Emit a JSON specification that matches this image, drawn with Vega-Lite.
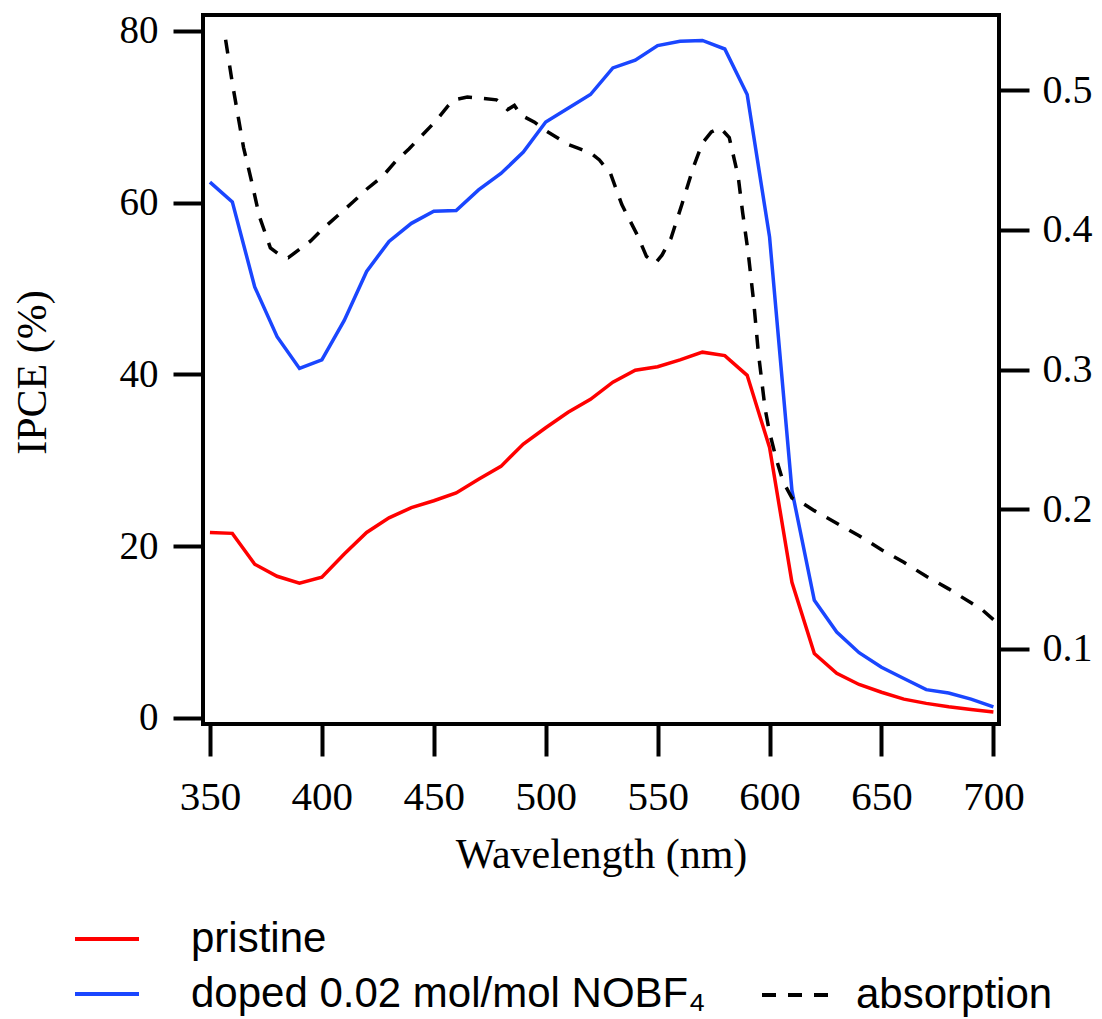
{
  "$schema": "https://vega.github.io/schema/vega-lite/v6.json",
  "autosize": {"type": "none"},
  "padding": {"left": 203, "top": 15, "right": 103, "bottom": 295},
  "width": 796,
  "height": 709,
  "background": "white",
  "config": {
    "view": {"stroke": "black", "strokeWidth": 4},
    "axis": {
      "grid": false,
      "domain": false,
      "tickColor": "black",
      "tickWidth": 4,
      "labelColor": "black",
      "titleColor": "black",
      "labelFont": "Liberation Serif",
      "titleFont": "Liberation Serif",
      "titleFontWeight": "normal"
    },
    "legend": {
      "labelFont": "Liberation Sans",
      "labelColor": "black",
      "labelLimit": 0,
      "padding": 0
    }
  },
  "datasets": {
    "ipce": [
      {"wl": 350, "series": "pristine", "ipce": 21.6},
      {"wl": 360, "series": "pristine", "ipce": 21.5},
      {"wl": 370, "series": "pristine", "ipce": 17.9},
      {"wl": 380, "series": "pristine", "ipce": 16.5},
      {"wl": 390, "series": "pristine", "ipce": 15.7},
      {"wl": 400, "series": "pristine", "ipce": 16.4},
      {"wl": 410, "series": "pristine", "ipce": 19.1},
      {"wl": 420, "series": "pristine", "ipce": 21.6},
      {"wl": 430, "series": "pristine", "ipce": 23.3},
      {"wl": 440, "series": "pristine", "ipce": 24.5},
      {"wl": 450, "series": "pristine", "ipce": 25.3},
      {"wl": 460, "series": "pristine", "ipce": 26.2},
      {"wl": 470, "series": "pristine", "ipce": 27.8},
      {"wl": 480, "series": "pristine", "ipce": 29.3},
      {"wl": 490, "series": "pristine", "ipce": 31.9},
      {"wl": 500, "series": "pristine", "ipce": 33.8},
      {"wl": 510, "series": "pristine", "ipce": 35.6},
      {"wl": 520, "series": "pristine", "ipce": 37.1},
      {"wl": 530, "series": "pristine", "ipce": 39.1},
      {"wl": 540, "series": "pristine", "ipce": 40.5},
      {"wl": 550, "series": "pristine", "ipce": 40.9},
      {"wl": 560, "series": "pristine", "ipce": 41.7},
      {"wl": 570, "series": "pristine", "ipce": 42.6},
      {"wl": 580, "series": "pristine", "ipce": 42.2},
      {"wl": 590, "series": "pristine", "ipce": 39.9},
      {"wl": 600, "series": "pristine", "ipce": 31.5},
      {"wl": 610, "series": "pristine", "ipce": 15.8},
      {"wl": 620, "series": "pristine", "ipce": 7.5},
      {"wl": 630, "series": "pristine", "ipce": 5.2},
      {"wl": 640, "series": "pristine", "ipce": 3.9},
      {"wl": 650, "series": "pristine", "ipce": 3.0},
      {"wl": 660, "series": "pristine", "ipce": 2.2},
      {"wl": 670, "series": "pristine", "ipce": 1.7},
      {"wl": 680, "series": "pristine", "ipce": 1.3},
      {"wl": 690, "series": "pristine", "ipce": 1.0},
      {"wl": 700, "series": "pristine", "ipce": 0.7},
      {"wl": 350, "series": "doped 0.02 mol/mol NOBF\u2084", "ipce": 62.4},
      {"wl": 360, "series": "doped 0.02 mol/mol NOBF\u2084", "ipce": 60.1},
      {"wl": 370, "series": "doped 0.02 mol/mol NOBF\u2084", "ipce": 50.2},
      {"wl": 380, "series": "doped 0.02 mol/mol NOBF\u2084", "ipce": 44.4},
      {"wl": 390, "series": "doped 0.02 mol/mol NOBF\u2084", "ipce": 40.7},
      {"wl": 400, "series": "doped 0.02 mol/mol NOBF\u2084", "ipce": 41.7},
      {"wl": 410, "series": "doped 0.02 mol/mol NOBF\u2084", "ipce": 46.3},
      {"wl": 420, "series": "doped 0.02 mol/mol NOBF\u2084", "ipce": 52.0},
      {"wl": 430, "series": "doped 0.02 mol/mol NOBF\u2084", "ipce": 55.5},
      {"wl": 440, "series": "doped 0.02 mol/mol NOBF\u2084", "ipce": 57.6},
      {"wl": 450, "series": "doped 0.02 mol/mol NOBF\u2084", "ipce": 59.0},
      {"wl": 460, "series": "doped 0.02 mol/mol NOBF\u2084", "ipce": 59.1},
      {"wl": 470, "series": "doped 0.02 mol/mol NOBF\u2084", "ipce": 61.5},
      {"wl": 480, "series": "doped 0.02 mol/mol NOBF\u2084", "ipce": 63.4},
      {"wl": 490, "series": "doped 0.02 mol/mol NOBF\u2084", "ipce": 65.9},
      {"wl": 500, "series": "doped 0.02 mol/mol NOBF\u2084", "ipce": 69.4},
      {"wl": 510, "series": "doped 0.02 mol/mol NOBF\u2084", "ipce": 71.0},
      {"wl": 520, "series": "doped 0.02 mol/mol NOBF\u2084", "ipce": 72.6},
      {"wl": 530, "series": "doped 0.02 mol/mol NOBF\u2084", "ipce": 75.7},
      {"wl": 540, "series": "doped 0.02 mol/mol NOBF\u2084", "ipce": 76.6},
      {"wl": 550, "series": "doped 0.02 mol/mol NOBF\u2084", "ipce": 78.3},
      {"wl": 560, "series": "doped 0.02 mol/mol NOBF\u2084", "ipce": 78.8},
      {"wl": 570, "series": "doped 0.02 mol/mol NOBF\u2084", "ipce": 78.9},
      {"wl": 580, "series": "doped 0.02 mol/mol NOBF\u2084", "ipce": 77.9},
      {"wl": 590, "series": "doped 0.02 mol/mol NOBF\u2084", "ipce": 72.6},
      {"wl": 600, "series": "doped 0.02 mol/mol NOBF\u2084", "ipce": 56.0},
      {"wl": 610, "series": "doped 0.02 mol/mol NOBF\u2084", "ipce": 26.5},
      {"wl": 620, "series": "doped 0.02 mol/mol NOBF\u2084", "ipce": 13.7},
      {"wl": 630, "series": "doped 0.02 mol/mol NOBF\u2084", "ipce": 10.0},
      {"wl": 640, "series": "doped 0.02 mol/mol NOBF\u2084", "ipce": 7.6},
      {"wl": 650, "series": "doped 0.02 mol/mol NOBF\u2084", "ipce": 5.9},
      {"wl": 660, "series": "doped 0.02 mol/mol NOBF\u2084", "ipce": 4.6},
      {"wl": 670, "series": "doped 0.02 mol/mol NOBF\u2084", "ipce": 3.3},
      {"wl": 680, "series": "doped 0.02 mol/mol NOBF\u2084", "ipce": 2.9},
      {"wl": 690, "series": "doped 0.02 mol/mol NOBF\u2084", "ipce": 2.2},
      {"wl": 700, "series": "doped 0.02 mol/mol NOBF\u2084", "ipce": 1.3}
    ],
    "absorb": [
      {"wl": 357, "abs": 0.536, "kind": "absorption"},
      {"wl": 360, "abs": 0.505, "kind": "absorption"},
      {"wl": 365, "abs": 0.459, "kind": "absorption"},
      {"wl": 369, "abs": 0.432, "kind": "absorption"},
      {"wl": 372, "abs": 0.410, "kind": "absorption"},
      {"wl": 377, "abs": 0.387, "kind": "absorption"},
      {"wl": 382, "abs": 0.381, "kind": "absorption"},
      {"wl": 385, "abs": 0.380, "kind": "absorption"},
      {"wl": 390, "abs": 0.386, "kind": "absorption"},
      {"wl": 395, "abs": 0.392, "kind": "absorption"},
      {"wl": 400, "abs": 0.400, "kind": "absorption"},
      {"wl": 407, "abs": 0.410, "kind": "absorption"},
      {"wl": 414, "abs": 0.420, "kind": "absorption"},
      {"wl": 420, "abs": 0.429, "kind": "absorption"},
      {"wl": 427, "abs": 0.438, "kind": "absorption"},
      {"wl": 433, "abs": 0.449, "kind": "absorption"},
      {"wl": 439, "abs": 0.458, "kind": "absorption"},
      {"wl": 445, "abs": 0.468, "kind": "absorption"},
      {"wl": 451, "abs": 0.478, "kind": "absorption"},
      {"wl": 456, "abs": 0.488, "kind": "absorption"},
      {"wl": 459, "abs": 0.493, "kind": "absorption"},
      {"wl": 465, "abs": 0.495, "kind": "absorption"},
      {"wl": 472, "abs": 0.494, "kind": "absorption"},
      {"wl": 478, "abs": 0.493, "kind": "absorption"},
      {"wl": 481, "abs": 0.489, "kind": "absorption"},
      {"wl": 483, "abs": 0.486, "kind": "absorption"},
      {"wl": 486, "abs": 0.489, "kind": "absorption"},
      {"wl": 489, "abs": 0.482, "kind": "absorption"},
      {"wl": 495, "abs": 0.477, "kind": "absorption"},
      {"wl": 499, "abs": 0.472, "kind": "absorption"},
      {"wl": 505, "abs": 0.466, "kind": "absorption"},
      {"wl": 510, "abs": 0.461, "kind": "absorption"},
      {"wl": 515, "abs": 0.458, "kind": "absorption"},
      {"wl": 520, "abs": 0.455, "kind": "absorption"},
      {"wl": 524, "abs": 0.450, "kind": "absorption"},
      {"wl": 529, "abs": 0.440, "kind": "absorption"},
      {"wl": 534, "abs": 0.418, "kind": "absorption"},
      {"wl": 541, "abs": 0.396, "kind": "absorption"},
      {"wl": 545, "abs": 0.381, "kind": "absorption"},
      {"wl": 549, "abs": 0.376, "kind": "absorption"},
      {"wl": 552, "abs": 0.382, "kind": "absorption"},
      {"wl": 556, "abs": 0.394, "kind": "absorption"},
      {"wl": 561, "abs": 0.419, "kind": "absorption"},
      {"wl": 566, "abs": 0.445, "kind": "absorption"},
      {"wl": 570, "abs": 0.462, "kind": "absorption"},
      {"wl": 574, "abs": 0.470, "kind": "absorption"},
      {"wl": 578, "abs": 0.473, "kind": "absorption"},
      {"wl": 582, "abs": 0.466, "kind": "absorption"},
      {"wl": 586, "abs": 0.438, "kind": "absorption"},
      {"wl": 588, "abs": 0.412, "kind": "absorption"},
      {"wl": 590.5, "abs": 0.383, "kind": "absorption"},
      {"wl": 593, "abs": 0.347, "kind": "absorption"},
      {"wl": 595, "abs": 0.312, "kind": "absorption"},
      {"wl": 598, "abs": 0.272, "kind": "absorption"},
      {"wl": 600, "abs": 0.255, "kind": "absorption"},
      {"wl": 603, "abs": 0.236, "kind": "absorption"},
      {"wl": 606, "abs": 0.220, "kind": "absorption"},
      {"wl": 610, "abs": 0.208, "kind": "absorption"},
      {"wl": 615, "abs": 0.204, "kind": "absorption"},
      {"wl": 620, "abs": 0.199, "kind": "absorption"},
      {"wl": 630, "abs": 0.190, "kind": "absorption"},
      {"wl": 640, "abs": 0.181, "kind": "absorption"},
      {"wl": 650, "abs": 0.171, "kind": "absorption"},
      {"wl": 660, "abs": 0.162, "kind": "absorption"},
      {"wl": 670, "abs": 0.152, "kind": "absorption"},
      {"wl": 680, "abs": 0.143, "kind": "absorption"},
      {"wl": 690, "abs": 0.133, "kind": "absorption"},
      {"wl": 695, "abs": 0.128, "kind": "absorption"},
      {"wl": 700, "abs": 0.121, "kind": "absorption"}
    ]
  },
  "encoding": {
    "x": {
      "field": "wl",
      "type": "quantitative",
      "scale": {"domain": [346.9, 702.5], "nice": false, "zero": false},
      "axis": {
        "title": "Wavelength (nm)",
        "values": [350, 400, 450, 500, 550, 600, 650, 700],
        "tickSize": 32,
        "labelFontSize": 41,
        "labelPadding": 21,
        "titleFontSize": 42,
        "titleBaseline": "alphabetic",
        "titleY": 143
      }
    }
  },
  "layer": [
    {
      "data": {"name": "ipce"},
      "mark": {"type": "line", "strokeWidth": 3.5, "interpolate": "linear"},
      "encoding": {
        "y": {
          "field": "ipce",
          "type": "quantitative",
          "scale": {"domain": [-0.7, 81.86], "nice": false, "zero": false},
          "axis": {
            "orient": "left",
            "title": "IPCE (%)",
            "values": [0, 20, 40, 60, 80],
            "tickSize": 30,
            "labelFontSize": 39,
            "labelPadding": 15,
            "titleFontSize": 42,
            "titleBaseline": "alphabetic",
            "titleX": -158,
            "titleY": 357
          }
        },
        "color": {
          "field": "series",
          "type": "nominal",
          "scale": {
            "domain": ["pristine", "doped 0.02 mol/mol NOBF\u2084"],
            "range": ["#ff0000", "#1a46ff"]
          },
          "legend": {
            "title": null,
            "orient": "none",
            "direction": "vertical",
            "legendX": -130,
            "legendY": 890,
            "symbolType": "stroke",
            "symbolSize": 4096,
            "symbolStrokeWidth": 4,
            "labelFontSize": 42,
            "labelOffset": 50,
            "rowPadding": -8
          }
        }
      }
    },
    {
      "data": {"name": "absorb"},
      "mark": {"type": "line", "strokeWidth": 3.5, "color": "black"},
      "encoding": {
        "y": {
          "field": "abs",
          "type": "quantitative",
          "scale": {"domain": [0.0463, 0.5537], "nice": false, "zero": false},
          "axis": {
            "orient": "right",
            "title": null,
            "values": [0.1, 0.2, 0.3, 0.4, 0.5],
            "format": ".1f",
            "tickSize": 30,
            "labelFontSize": 40,
            "labelPadding": 13
          }
        },
        "strokeDash": {
          "field": "kind",
          "type": "nominal",
          "scale": {"domain": ["absorption"], "range": [[14, 12]]},
          "legend": {
            "title": null,
            "orient": "none",
            "legendX": 557,
            "legendY": 943,
            "symbolType": "stroke",
            "symbolSize": 4900,
            "symbolStrokeWidth": 4,
            "symbolStrokeColor": "black",
            "labelFontSize": 42,
            "labelOffset": 22
          }
        }
      }
    }
  ],
  "resolve": {"scale": {"y": "independent"}}
}
